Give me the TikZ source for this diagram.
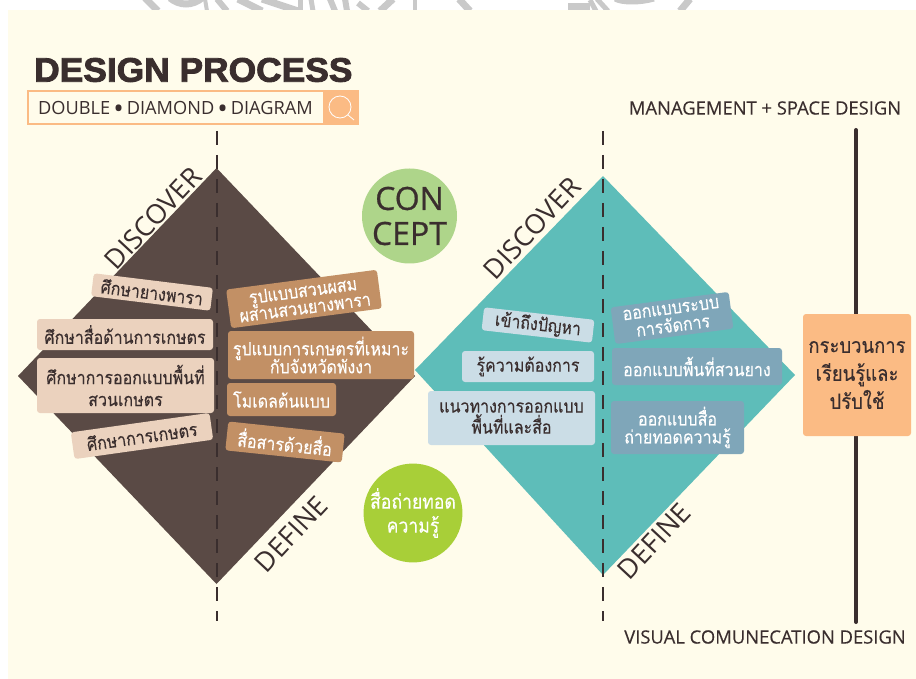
\documentclass[tikz,border=0pt]{standalone}
\usepackage{fontspec}
\setmainfont{Open Sans}
\newfontfamily\thai[Script=Thai,FakeStretch=0.88,FakeBold=0.25]{Loma}
\newfontfamily\latinb[FakeBold=0.3]{Open Sans}
\newfontfamily\latinc[FakeBold=0.7]{Open Sans}
\newfontfamily\titlef[FakeBold=2.5,FakeStretch=1.04]{Liberation Sans Bold}
\definecolor{cream}{HTML}{FFFCEB}
\definecolor{ink}{HTML}{3A2E2E}
\definecolor{brownD}{HTML}{5A4A45}
\definecolor{beige}{HTML}{EBD2BE}
\definecolor{tan}{HTML}{C29065}
\definecolor{teal}{HTML}{5EBDB9}
\definecolor{paleblue}{HTML}{CBDDE6}
\definecolor{slate}{HTML}{7FA6B9}
\definecolor{peach}{HTML}{FBBB84}
\definecolor{leaf}{HTML}{AED58A}
\definecolor{lime}{HTML}{A8CF38}
\definecolor{wmgray}{HTML}{C9C9C9}
\newcommand{\bigdot}{\,\raisebox{-3.6pt}{\fontsize{28}{19}\selectfont •}\,}
\tikzset{
  x=1pt,y=-1pt,
  card/.style={rounded corners=3pt,inner sep=0pt,align=center,font=\thai\fontsize{18.2}{20}\selectfont},
  darkcard/.style={card,fill=beige,text=ink},
  tancard/.style={card,fill=tan,text=white},
  bluecard/.style={card,fill=paleblue,text=ink},
  slatecard/.style={card,fill=slate,text=white},
  phase/.style={font=\fontsize{27}{27}\selectfont,text=ink,rotate=47,inner sep=0pt},
  cornerlabel/.style={font=\latinb\fontsize{18.4}{19}\selectfont,text=ink,inner sep=0pt},
  divider/.style={draw=ink,line width=2pt,dash pattern=on 14pt off 10pt},
  wm/.style={draw=wmgray,line width=7pt},
}
\begin{document}
\begin{tikzpicture}
\useasboundingbox (0,0) rectangle (916,679);
\fill[white] (0,0) rectangle (916,679);
% watermark fragments above the sheet
\begin{scope}
\clip (0,0) rectangle (916,11);
\draw[wm] (145,-2) -- (158,11);
\draw[wm] (170,-2) .. controls (180,6) and (192,6) .. (202,-2);
\draw[wm,line width=4pt] (205,-1) -- (207,11);
\draw[wm,line width=6pt] (217,-1) -- (227,11);
\draw[wm] (238,-1) -- (262,11);
\draw[wm] (262,-1) -- (298,11);
\draw[wm,line width=5pt] (300,-1) -- (300,11);
\draw[wm,line width=5pt] (311,-1) -- (313,11);
\draw[wm,line width=6pt] (330,-1) -- (335,11);
\draw[wm,line width=6pt] (345,-1) -- (347,11);
\draw[wm,line width=6pt] (358,3) -- (368,11);
\draw[wm] (393,-1) -- (380,11);
\draw[wm,line width=4pt] (415,-1) -- (415,11);
\draw[wm] (459,-1) -- (470,11);
\fill[wmgray] (568,3) rectangle (590,11);
\draw[wm,line width=5pt] (590,0) -- (596,11);
\draw[wm,line width=5pt] (597,-1) -- (608,11);
\draw[wm,line width=5pt] (615,-1) .. controls (622,3) and (640,3) .. (654,-1);
\draw[wm] (690,-1) -- (680,11);
\end{scope}
\fill[cream] (8,10) rectangle (916,679);
% diamonds
\fill[brownD] (216.5,168) -- (415,376) -- (216.5,584) -- (18,376) -- cycle;
\fill[teal] (603,176) -- (795,375) -- (603,575) -- (415,370) -- cycle;
% dividers
\coordinate (la) at (216.5,131); \coordinate (lb) at (216.5,621);
\coordinate (ra) at (603,131);   \coordinate (rb) at (603,621);
\draw[divider] (la) -- (lb);
\draw[divider] (ra) -- (rb);
% spine
\coordinate (sa) at (856,130); \coordinate (sb) at (856,622);
\draw[ink,line width=4pt,line cap=round] (sa) -- (sb);
% title
\node[anchor=west,inner sep=0pt,text=ink,font=\titlef\fontsize{34}{34}\selectfont] (title) at (34,70) {DESIGN PROCESS};
\node[draw=peach,line width=2pt,fill=cream,minimum width=330pt,minimum height=33pt,inner sep=0pt] (searchbox) at (192.5,108) {};
\node[fill=peach,minimum width=35pt,minimum height=34pt,inner sep=0pt] (searchbtn) at (340.5,108) {};
\draw[white,line width=.8pt] (340,107) circle (11) (348,115) -- (354,120);
\node[anchor=base west,inner sep=0pt,text=ink,font=\fontsize{18.2}{19}\selectfont] (sub) at (38,115) {DOUBLE\bigdot DIAMOND\bigdot DIAGRAM};
% phase labels
\node[phase] (d1) at (153,218) {DISCOVER};
\node[phase] (d2) at (532,228) {DISCOVER};
\node[phase] (f1) at (291,534) {DEFINE};
\node[phase] (f2) at (654,541) {DEFINE};
% left cards
\node[darkcard,minimum width=120pt,minimum height=23pt,rotate=-7] (a1) at (152,292) {ศึกษายางพารา};
\node[darkcard,minimum width=176pt,minimum height=31pt] (a2) at (125,334.5) {ศึกษาสื่อด้านการเกษตร};
\node[darkcard,minimum width=177pt,minimum height=55pt] (a3) at (125.5,385.5) {ศึกษาการออกแบบพื้นที่\\[2pt]สวนเกษตร};
\node[darkcard,minimum width=140pt,minimum height=27pt,rotate=8] (a4) at (142,436) {ศึกษาการเกษตร};
\node[tancard,minimum width=152pt,minimum height=39pt,rotate=7.5] (b1) at (304,299) {รูปแบบสวนผสม\\[-3pt]ผสานสวนยางพารา};
\node[tancard,minimum width=186pt,minimum height=48pt] (b2) at (321,355) {รูปแบบการเกษตรที่เหมาะ\\[-2pt]กับจังหวัดพังงา};
\node[tancard,minimum width=109pt,minimum height=33pt] (b3) at (281.5,399.5) {โมเดลต้นแบบ};
\node[tancard,minimum width=117pt,minimum height=29pt,rotate=-6] (b4) at (285,442) {สื่อสารด้วยสื่อ};
% right cards
\node[bluecard,minimum width=111pt,minimum height=23pt,rotate=-6.5] (c1) at (538,325) {เข้าถึงปัญหา};
\node[bluecard,minimum width=132pt,minimum height=31pt] (c2) at (528,366.5) {รู้ความต้องการ};
\node[bluecard,minimum width=167pt,minimum height=54pt] (c3) at (511.5,418) {แนวทางการออกแบบ\\[1pt]พื้นที่และสื่อ};
\node[slatecard,minimum width=119pt,minimum height=37pt,rotate=7.5] (e1) at (672,318) {ออกแบบระบบ\\[-2pt]การจัดการ};
\node[slatecard,minimum width=170pt,minimum height=37pt] (e2) at (697,366.5) {ออกแบบพื้นที่สวนยาง};
\node[slatecard,minimum width=133pt,minimum height=53pt] (e3) at (677.5,427.5) {ออกแบบสื่อ\\[-2pt]ถ่ายทอดความรู้};
% circles
\node[circle,fill=leaf,minimum size=95pt,inner sep=0pt,align=center,text=ink,font=\latinc\fontsize{32}{35}\selectfont] (concept) at (409.5,216) {CON\\CEPT};
\node[circle,fill=lime,minimum size=97pt,inner sep=0pt,align=center,text=white,font=\thai\fontsize{20}{24}\selectfont] (media) at (413,513) {สื่อถ่ายทอด\\ความรู้};
% process box
\node[fill=peach,rounded corners=3pt,minimum width=108pt,minimum height=122pt,inner sep=0pt,align=center,text=ink,font=\thai\fontsize{21}{28}\selectfont] (proc) at (857,375) {กระบวนการ\\เรียนรู้และ\\ปรับใช้};
% corner labels
\node[cornerlabel,anchor=center] (mgmt) at (765,108) {MANAGEMENT + SPACE DESIGN};
\node[cornerlabel,anchor=center] (vis) at (765,637) {VISUAL COMUNECATION DESIGN};
\end{tikzpicture}
\end{document}
